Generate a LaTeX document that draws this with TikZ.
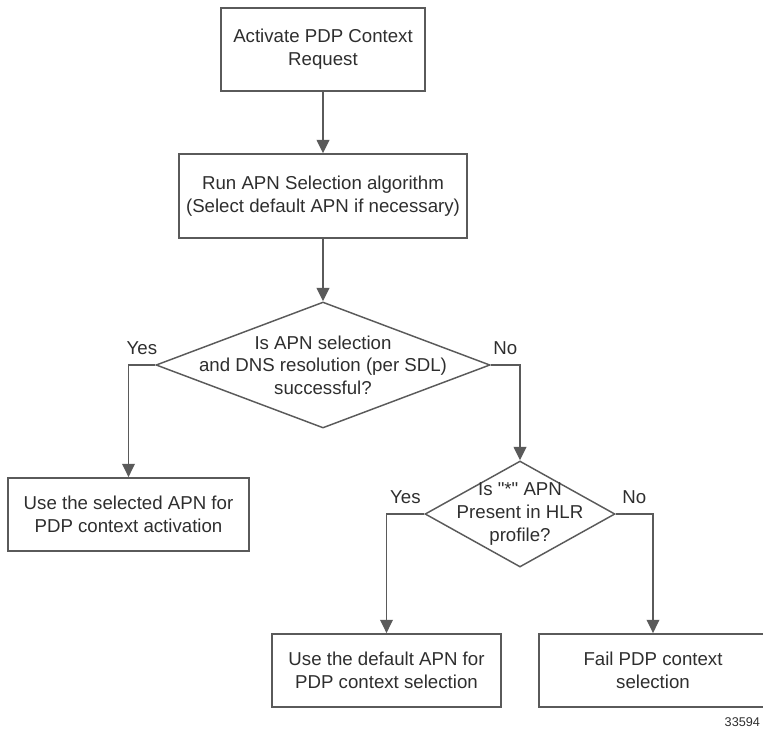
\documentclass[tikz,border=0pt]{standalone}
\usepackage{fontspec}
\setmainfont{Liberation Sans}
\usetikzlibrary{shapes.geometric,arrows.meta}
\definecolor{linegray}{HTML}{5A5A5A}
\definecolor{textgray}{HTML}{2E2E2E}

\begin{document}
\begin{tikzpicture}[x=0.75pt,y=-0.75pt,color=linegray,line width=1.1pt,
  >={Triangle[length=10pt,width=9.5pt]},
  every node/.style={text=textgray,font=\fontsize{14pt}{17pt}\selectfont},
  box/.style={draw,rectangle,align=center,minimum height=55pt},
  decision/.style={draw,diamond,inner sep=0pt}]
%\draw[help lines] (0,0) grid (763,729);
\useasboundingbox (0,0) rectangle (763,729);

\node[box,minimum width=153pt,minimum height=62pt] (req) at (323,49.5) {Activate PDP Context\\Request};
\node[box,minimum width=216pt,minimum height=63pt] (sel) at (323,196) {Run APN Selection algorithm\\(Select default APN if necessary)};
\node[decision,minimum width=250.5pt,minimum height=94.5pt,
  label={[name=dia1text,align=center]center:Is APN selection\\and DNS resolution (per SDL)\\successful?}] (dia1) at (323,365) {};
\node[box,minimum width=181pt] (use) at (128.5,514.5) {Use the selected APN for\\PDP context activation};
\node[decision,minimum width=142.5pt,minimum height=79.5pt,
  label={[name=dia2text,align=center]center:Is \textquotedbl*\textquotedbl{} APN\\Present in HLR\\profile?}] (dia2) at (520,514) {};
\node[box,minimum width=172pt] (deflt) at (386.5,670.5) {Use the default APN for\\PDP context selection};
\node[box,minimum width=171pt] (fail) at (653,670.5) {Fail PDP context\\selection};
\node[anchor=east,inner sep=1pt,font=\fontsize{9.5pt}{11pt}\selectfont] (fignum) at (762,722) {33594};

\foreach \f/\t in {req/sel, sel/dia1}
  \draw[->] (\f.south) -- (\t.north);

\foreach \f/\a/\t/\l in {dia1/west/use/Yes, dia1/east/dia2/No, dia2/west/deflt/Yes, dia2/east/fail/No}
  \draw[->] (\f.\a) -| node[pos=0.25,above=3.5pt] (\f\a) {\l} (\t.north);
\end{tikzpicture}
\end{document}
